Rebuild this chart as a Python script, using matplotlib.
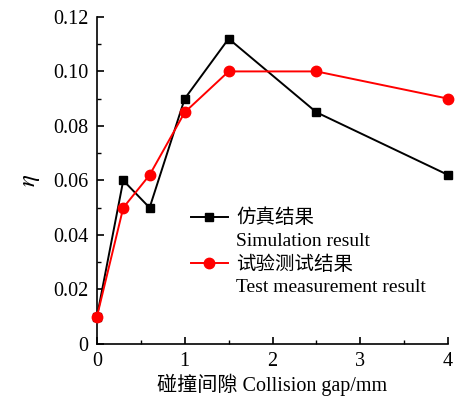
import matplotlib
matplotlib.use("Agg")
import matplotlib.pyplot as plt
from matplotlib.lines import Line2D

plt.rcParams['font.family'] = ['Liberation Serif', 'Noto Sans CJK SC']
plt.rcParams['mathtext.fontset'] = 'stix'

gap = [0, 0.3, 0.6, 1.0, 1.5, 2.5, 4.0]
sim = [0.01, 0.06, 0.05, 0.09, 0.112, 0.085, 0.062]
test = [0.01, 0.05, 0.062, 0.085, 0.10, 0.10, 0.09]
sim_label = ["仿真结果", "Simulation result"]
test_label = ["试验测试结果", "Test measurement result"]
xticks = [0, 1, 2, 3, 4]
yticks = [0, 0.02, 0.04, 0.06, 0.08, 0.10, 0.12]
yticklabels = ["0", "0.02", "0.04", "0.06", "0.08", "0.10", "0.12"]

fig = plt.figure(figsize=(4.55, 4.12), dpi=100)
ax = fig.add_axes([0.213, 0.165, 0.772, 0.794])

ax.plot(gap, sim, color='black', marker='s', markersize=6, lw=1.4, zorder=2, clip_on=False)
ax.plot(gap, test, color='red', marker='o', markersize=7.5, lw=1.4, zorder=3, clip_on=False)

ax.set_xlim(0, 4)
ax.set_ylim(0, 0.12)
ax.set_xticks(xticks)
ax.set_xticks([0.5, 1.5, 2.5, 3.5], minor=True)
ax.set_yticks(yticks)
ax.set_yticklabels(yticklabels)
ax.set_yticks([0.01, 0.03, 0.05, 0.07, 0.09, 0.11], minor=True)
for s in ['top', 'right']:
    ax.spines[s].set_visible(False)
for s in ['left', 'bottom']:
    ax.spines[s].set_linewidth(1.2)
ax.tick_params(which='major', direction='in', length=5, width=1.2, labelsize=14.5, pad=6)
ax.tick_params(which='minor', direction='in', length=3, width=1.0)

ax.set_xlabel("碰撞间隙 Collision gap/mm", fontsize=14.5, labelpad=2)
ax.set_ylabel(r"$\eta$", fontsize=18, labelpad=8)

blank = Line2D([], [], linestyle='none', marker=None)
handles = [
    Line2D([], [], color='black', marker='s', markersize=6, lw=1.4),
    blank,
    Line2D([], [], color='red', marker='o', markersize=7.5, lw=1.4),
    blank,
]
labels = [sim_label[0], sim_label[1], test_label[0], test_label[1]]
leg = ax.legend(handles, labels, loc='upper left', bbox_to_anchor=(183/455, 1 - 201/412),
                bbox_transform=fig.transFigure, frameon=False, fontsize=14,
                handlelength=1.9, handletextpad=0.45, labelspacing=0.26, borderaxespad=0)

fig.savefig("out.png", dpi=100)
